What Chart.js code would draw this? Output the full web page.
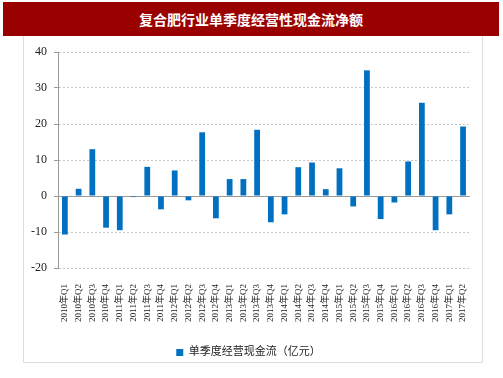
<!DOCTYPE html>
<html>
<head>
<meta charset="utf-8">
<script src="https://cdn.jsdelivr.net/npm/chart.js@4/dist/chart.umd.min.js"></script>
<style>
  body { margin: 0; background: #fff; width: 503px; height: 378px; position: relative; overflow: hidden; }
  #titulo {
    position: absolute; left: 3px; top: 2px; width: 496px; height: 34px;
    background: #9a0000; color: #fff; text-align: center; line-height: 34px;
    font-family: "Noto Sans CJK SC", sans-serif; font-weight: bold; font-size: 14px;
  }
  #painel {
    position: absolute; left: 23px; top: 36px; width: 458px; height: 326px;
    border-left: 1px solid #ddd; border-right: 1px solid #ddd; border-bottom: 1px solid #ddd;
  }
  #grafico { position: absolute; left: 0; top: 0; }
</style>
</head>
<body>
<div id="titulo">复合肥行业单季度经营性现金流净额</div>
<div id="painel"><canvas id="grafico" width="458" height="332"></canvas></div>
<script>
// trimestres
var trimestres = [
  "2010年Q1", "2010年Q2", "2010年Q3", "2010年Q4",
  "2011年Q1", "2011年Q2", "2011年Q3", "2011年Q4",
  "2012年Q1", "2012年Q2", "2012年Q3", "2012年Q4",
  "2013年Q1", "2013年Q2", "2013年Q3", "2013年Q4",
  "2014年Q1", "2014年Q2", "2014年Q3", "2014年Q4",
  "2015年Q1", "2015年Q2", "2015年Q3", "2015年Q4",
  "2016年Q1", "2016年Q2", "2016年Q3", "2016年Q4",
  "2017年Q1", "2017年Q2"
];
// fluxo de caixa operacional por trimestre (亿元)
var fluxoCaixa = [
  -10.7, 2.0, 13.0, -8.8,
  -9.5, -0.3, 8.1, -3.7,
  7.1, -1.2, 17.7, -6.2,
  4.7, 4.7, 18.4, -7.3,
  -5.1, 8.0, 9.3, 1.9,
  7.7, -2.9, 34.9, -6.4,
  -1.8, 9.6, 25.9, -9.5,
  -5.1, 19.3
];
var ticksY = [-20, -10, 0, 10, 20, 30, 40];
var nomeSerie = "单季度经营现金流（亿元）";

var fonteSerif = '"Liberation Serif", "Times New Roman", "Noto Sans CJK SC", serif';

const config = {
  type: 'bar',
  data: {
    labels: trimestres,
    datasets: [{
      label: nomeSerie,
      data: fluxoCaixa,
      backgroundColor: '#0070c0',
      borderWidth: 0,
      barPercentage: 0.42,
      categoryPercentage: 1
    }]
  },
  options: {
    responsive: false,
    animation: false,
    layout: { padding: { top: 16, right: 9, left: 0, bottom: 0 } },
    plugins: {
      tooltip: { enabled: false },
      legend: {
        position: 'bottom',
        labels: {
          boxWidth: 7, boxHeight: 7, padding: 6,
          color: '#222',
          font: { family: fonteSerif, size: 11 }
        }
      }
    },
    scales: {
      x: {
        offset: true,
        grid: { display: false },
        border: { display: false },
        ticks: {
          autoSkip: false, maxRotation: 90, minRotation: 90, padding: 8,
          color: '#222',
          font: { family: fonteSerif, size: 9 }
        },
        afterFit: function (escala) { escala.height = 73; }
      },
      y: {
        min: -20, max: 40,
        afterBuildTicks: function (escala) {
          escala.ticks = ticksY.map(function (v) { return { value: v }; });
        },
        grid: {
          color: function (ctx) { return ctx.tick && ctx.tick.value === 0 ? '#999' : '#c8c8c8'; },
          lineWidth: 1,
          tickLength: 4,
          tickColor: '#999'
        },
        border: {
          display: true, color: '#999', width: 1,
          dash: function (ctx) { return (!ctx.tick || ctx.tick.value === 0) ? [] : [2, 2]; }
        },
        ticks: {
          padding: 7,
          color: '#222',
          font: { family: fonteSerif, size: 12 }
        },
        afterFit: function (escala) { escala.width = 34; }
      }
    }
  }
};

let meuGrafico = new Chart(document.getElementById('grafico'), config);
</script>
</body>
</html>
